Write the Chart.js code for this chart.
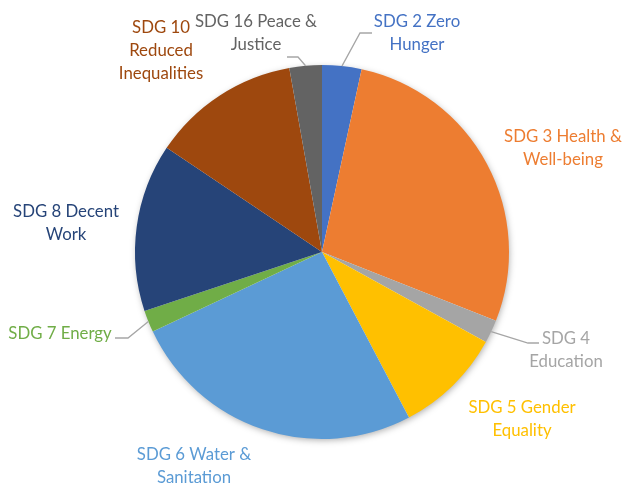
<!DOCTYPE html>
<html>
<head>
<meta charset="utf-8">
<script src="https://cdn.jsdelivr.net/npm/chart.js@4/dist/chart.umd.min.js"></script>
<style>
  html, body { margin: 0; padding: 0; background: #fff; }
  #wrap { width: 623px; height: 483px; }
</style>
</head>
<body>
<div id="wrap"><canvas id="myChart" width="623" height="483"></canvas></div>
<script>
// categories, each one split on the lines Excel wrapped it on
var categories = [
    ['SDG 2 Zero', 'Hunger'],
    ['SDG 3 Health &', 'Well-being'],
    ['SDG 4', 'Education'],
    ['SDG 5 Gender', 'Equality'],
    ['SDG 6 Water &', 'Sanitation'],
    ['SDG 7 Energy'],
    ['SDG 8 Decent', 'Work'],
    ['SDG 10', 'Reduced', 'Inequalities'],
    ['SDG 16 Peace &', 'Justice']
];
// share of the pie, in percent
var values = [3.4, 27.6, 2.0, 9.3, 25.7, 1.9, 14.5, 12.8, 2.8];

var colors = ['#4472C4', '#ED7D31', '#A5A5A5', '#FFC000', '#5B9BD5', '#70AD47', '#264478', '#9E480E', '#636363'];

// where each label sits: centre x, first baseline y, and the leader line bends (if any)
var labelSpots = [
    { x: 417, y: 27, leader: [[360, 33], [372, 33]] },
    { x: 563, y: 142 },
    { x: 566, y: 344, leader: [[528, 343], [539, 343]] },
    { x: 522, y: 413 },
    { x: 194, y: 460 },
    { x: 60, y: 339, leader: [[128, 338], [115, 338]] },
    { x: 66, y: 217 },
    { x: 161, y: 33 },
    { x: 256, y: 27, leader: [[298, 57], [287, 57]] }
];
var LINE_H = 23;

var pieLabels = {
    id: 'pieLabels',
    beforeDatasetsDraw: function (chart) {
        // soft shadow under the whole pie
        var arc = chart.getDatasetMeta(0).data[0];
        if (!arc) return;
        var p = arc.getProps(['x', 'y', 'outerRadius'], true);
        var ctx = chart.ctx;
        ctx.save();
        ctx.shadowColor = 'rgba(0,0,0,0.35)';
        ctx.shadowBlur = 7;
        ctx.shadowOffsetX = 1;
        ctx.shadowOffsetY = 2;
        ctx.fillStyle = '#fff';
        ctx.beginPath();
        ctx.arc(p.x, p.y, p.outerRadius - 1, 0, Math.PI * 2);
        ctx.fill();
        ctx.restore();
    },
    afterDatasetsDraw: function (chart) {
        var ctx = chart.ctx;
        var arcs = chart.getDatasetMeta(0).data;
        ctx.save();
        ctx.font = '16.8px Lato';
        ctx.textAlign = 'center';
        ctx.textBaseline = 'alphabetic';
        arcs.forEach(function (arc, i) {
            var spot = labelSpots[i];
            var p = arc.getProps(['x', 'y', 'startAngle', 'endAngle', 'outerRadius'], true);
            if (spot.leader) {
                var mid = (p.startAngle + p.endAngle) / 2;
                ctx.beginPath();
                ctx.moveTo(p.x + Math.cos(mid) * p.outerRadius, p.y + Math.sin(mid) * p.outerRadius);
                spot.leader.forEach(function (pt) { ctx.lineTo(pt[0], pt[1]); });
                ctx.strokeStyle = '#A6A6A6';
                ctx.lineWidth = 1.3;
                ctx.stroke();
            }
            ctx.fillStyle = colors[i];
            categories[i].forEach(function (line, k) {
                ctx.fillText(line, spot.x, spot.y + k * LINE_H);
            });
        });
        ctx.restore();
    }
};

var ctx = document.getElementById('myChart').getContext('2d');
var chart = new Chart(ctx, {
    type: 'pie',
    data: {
        labels: categories,
        datasets: [{
            data: values,
            backgroundColor: colors,
            borderWidth: 0,
            hoverOffset: 0
        }]
    },
    options: {
        responsive: false,
        animation: false,
        layout: { padding: { top: 65, bottom: 44, left: 135, right: 114 } },
        plugins: {
            legend: { display: false },
            tooltip: { enabled: false }
        }
    },
    plugins: [pieLabels]
});
</script>
</body>
</html>
